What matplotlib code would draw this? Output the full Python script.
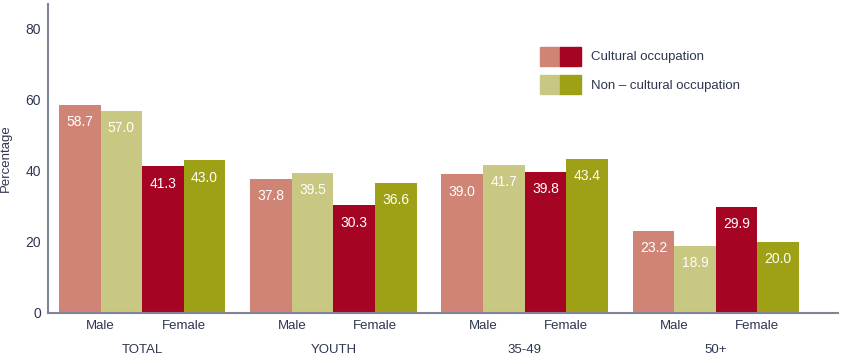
import numpy as np
import matplotlib
matplotlib.use("Agg")
import matplotlib.pyplot as plt
from matplotlib.patches import Patch
from matplotlib.legend_handler import HandlerTuple
from matplotlib.transforms import blended_transform_factory

# data
groups = ["TOTAL", "YOUTH", "35-49", "50+"]
male_cultural = [58.7, 37.8, 39.0, 23.2]
male_noncultural = [57.0, 39.5, 41.7, 18.9]
female_cultural = [41.3, 30.3, 39.8, 29.9]
female_noncultural = [43.0, 36.6, 43.4, 20.0]
sex_labels = ["Male", "Female"]

c_male_cult = "#D08476"
c_male_non = "#C8C882"
c_fem_cult = "#A50523"
c_fem_non = "#9EA116"
txt = "#2E3650"
spine = "#7F8596"

plt.rcParams["font.family"] = ["Liberation Sans", "DejaVu Sans"]

fig = plt.figure(figsize=(8.52, 3.57), dpi=100)
ax = fig.add_axes([48 / 852, 1 - 313 / 357, (838 - 48) / 852, (313 - 4) / 357])

step = 4.6
base = np.arange(len(groups)) * step
series = [
    (male_cultural, 0, c_male_cult),
    (male_noncultural, 1, c_male_non),
    (female_cultural, 2, c_fem_cult),
    (female_noncultural, 3, c_fem_non),
]
for vals, off, col in series:
    x = base + off + 0.5
    ax.bar(x, vals, width=1.0, color=col, edgecolor="none")
    for xi, v in zip(x, vals):
        ax.annotate(f"{v:.1f}", (xi, v), xytext=(0, -12.5), textcoords="offset points",
                    ha="center", va="center", color="white", fontsize=10)

ax.set_xlim(-0.265, base[-1] + 4 + 0.94)
ax.set_ylim(0, 87)
ax.set_yticks([0, 20, 40, 60, 80])
ax.tick_params(axis="y", length=0, pad=5, labelsize=10, labelcolor=txt)

xt = np.concatenate([base + 1, base + 3])
xl = [sex_labels[0]] * len(groups) + [sex_labels[1]] * len(groups)
ax.set_xticks(xt)
ax.set_xticklabels(xl)
ax.tick_params(axis="x", length=0, pad=5, labelsize=9.5, labelcolor=txt)

tr = blended_transform_factory(ax.transData, ax.transAxes)
for b, g in zip(base, groups):
    ax.text(b + 2, -37 / 309, g, transform=tr, ha="center", va="center",
            fontsize=9.5, color=txt)

ax.set_ylabel("Percentage", fontsize=9.5, color=txt)
ax.yaxis.set_label_coords(-36 / 790, 0.5)

for s in ["top", "right"]:
    ax.spines[s].set_visible(False)
for s in ["left", "bottom"]:
    ax.spines[s].set_color(spine)
    ax.spines[s].set_linewidth(1.5)

handles = [
    (Patch(color=c_male_cult), Patch(color=c_fem_cult)),
    (Patch(color=c_male_non), Patch(color=c_fem_non)),
]
ax.legend(handles, ["Cultural occupation", "Non – cultural occupation"],
          handler_map={tuple: HandlerTuple(ndivide=None, pad=0)},
          loc="upper left", bbox_to_anchor=((528 - 48) / 790, (313 - 35) / 309),
          frameon=False, fontsize=9.5, labelcolor=txt,
          handlelength=3.1, handleheight=1.8, handletextpad=0.8, labelspacing=0.75)

fig.savefig("out.png", dpi=100)
